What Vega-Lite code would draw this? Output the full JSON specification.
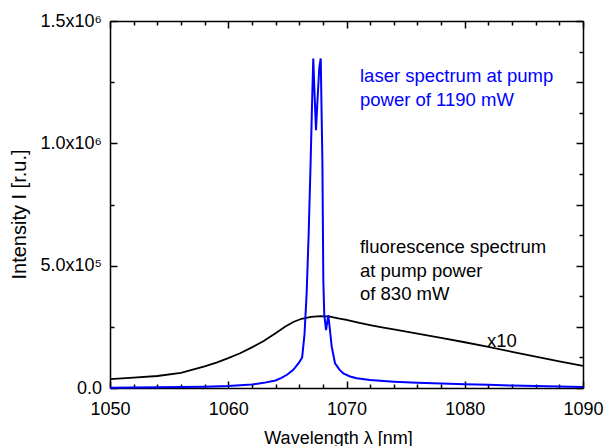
{
  "$schema": "https://vega.github.io/schema/vega-lite/v6.json",
  "width": 473,
  "height": 367,
  "autosize": "none",
  "padding": {"left": 110, "top": 21, "right": 23, "bottom": 58},
  "background": "white",
  "config": {
    "font": "Liberation Sans",
    "view": {"stroke": null},
    "axis": {"grid": false, "ticks": true, "domainColor": "black", "domainWidth": 1.5, "tickWidth": 1.5, "labelColor": "black", "titleColor": "black", "labelFont": "Liberation Sans", "titleFont": "Liberation Sans", "titleFontWeight": "normal", "labelOverlap": false, "labelFlush": false}
  },
  "datasets": {
    "fluor": [
      {"wl": 1050, "I": 36000}, {"wl": 1052, "I": 42000}, {"wl": 1054, "I": 49000}, {"wl": 1056, "I": 62000},
      {"wl": 1058, "I": 88000}, {"wl": 1059, "I": 104000}, {"wl": 1060, "I": 122000}, {"wl": 1061, "I": 142000},
      {"wl": 1062, "I": 166000}, {"wl": 1063, "I": 192000}, {"wl": 1064, "I": 224000}, {"wl": 1064.8, "I": 250000},
      {"wl": 1065.5, "I": 270000}, {"wl": 1066.2, "I": 283000}, {"wl": 1067, "I": 291000}, {"wl": 1067.8, "I": 294000},
      {"wl": 1068.6, "I": 292000}, {"wl": 1069.3, "I": 285000}, {"wl": 1070, "I": 278000}, {"wl": 1071, "I": 267000},
      {"wl": 1072, "I": 257000}, {"wl": 1073, "I": 248000}, {"wl": 1074, "I": 240000}, {"wl": 1076, "I": 222000},
      {"wl": 1078, "I": 205000}, {"wl": 1080, "I": 187000}, {"wl": 1082, "I": 168000}, {"wl": 1084, "I": 148000},
      {"wl": 1086, "I": 128000}, {"wl": 1088, "I": 109000}, {"wl": 1090, "I": 90000}
    ],
    "laser": [
      {"wl": 1050, "I": 1500}, {"wl": 1052, "I": 2000}, {"wl": 1054, "I": 3000}, {"wl": 1056, "I": 4000},
      {"wl": 1058, "I": 5000}, {"wl": 1060, "I": 8000}, {"wl": 1061, "I": 11000}, {"wl": 1062, "I": 14000},
      {"wl": 1063, "I": 21000}, {"wl": 1064, "I": 31000}, {"wl": 1064.5, "I": 41000}, {"wl": 1065, "I": 55000},
      {"wl": 1065.5, "I": 74000}, {"wl": 1066, "I": 105000}, {"wl": 1066.25, "I": 125000}, {"wl": 1066.45, "I": 220000},
      {"wl": 1066.63, "I": 387000}, {"wl": 1066.8, "I": 630000}, {"wl": 1066.97, "I": 930000}, {"wl": 1067.08, "I": 1150000},
      {"wl": 1067.19, "I": 1347000}, {"wl": 1067.3, "I": 1200000}, {"wl": 1067.42, "I": 1054000}, {"wl": 1067.55, "I": 1180000},
      {"wl": 1067.7, "I": 1310000}, {"wl": 1067.82, "I": 1347000}, {"wl": 1067.96, "I": 930000}, {"wl": 1068.04, "I": 440000},
      {"wl": 1068.12, "I": 300000}, {"wl": 1068.27, "I": 237000}, {"wl": 1068.46, "I": 298000}, {"wl": 1068.6, "I": 237000},
      {"wl": 1068.75, "I": 169000}, {"wl": 1069.03, "I": 101000}, {"wl": 1069.4, "I": 75000}, {"wl": 1069.73, "I": 60000},
      {"wl": 1070.3, "I": 47000}, {"wl": 1070.86, "I": 40000}, {"wl": 1072, "I": 33000}, {"wl": 1074, "I": 26000},
      {"wl": 1076, "I": 21000}, {"wl": 1078, "I": 18000}, {"wl": 1080, "I": 15000}, {"wl": 1082, "I": 13000},
      {"wl": 1084, "I": 10000}, {"wl": 1086, "I": 8000}, {"wl": 1088, "I": 6000}, {"wl": 1090, "I": 4000}
    ],
    "notes": [
      {"wl": 1071.14, "I": 1252000, "text": "laser spectrum at pump", "series": "laser"},
      {"wl": 1071.14, "I": 1152000, "text": "power of 1190 mW", "series": "laser"},
      {"wl": 1071.14, "I": 550000, "text": "fluorescence spectrum", "series": "fluor"},
      {"wl": 1071.14, "I": 455000, "text": "at pump power", "series": "fluor"},
      {"wl": 1071.14, "I": 360000, "text": "of 830 mW", "series": "fluor"},
      {"wl": 1081.88, "I": 168000, "text": "x10", "series": "fluor"}
    ]
  },
  "layer": [
    {
      "data": {"name": "fluor"},
      "mark": {"type": "line", "color": "black", "strokeWidth": 1.8},
      "encoding": {
        "x": {"field": "wl", "type": "quantitative", "scale": {"domain": [1050, 1090], "nice": false, "zero": false},
          "axis": {"orient": "bottom", "values": [1050,1052,1054,1056,1058,1060,1062,1064,1066,1068,1070,1072,1074,1076,1078,1080,1082,1084,1086,1088,1090],
            "ticks": true, "tickColor": "#000000",
            "tickSize": {"condition": {"test": "datum.value % 10 === 0", "value": -7}, "value": -4},
            "labelExpr": "datum.value % 10 === 0 ? datum.label : ''", "format": "d",
            "labelFontSize": 18, "labelPadding": 19, "labelBaseline": "top",
            "title": "Wavelength λ [nm]", "titleFontSize": 18, "titleX": 228, "titleY": 55, "titleBaseline": "alphabetic", "titleAnchor": null, "titleAlign": "center"}},
        "y": {"field": "I", "type": "quantitative", "scale": {"domain": [0, 1500000], "nice": false},
          "axis": {"orient": "left", "values": [0, 250000, 500000, 750000, 1000000, 1250000, 1500000],
            "ticks": true, "tickColor": "#000000",
            "tickSize": {"condition": {"test": "datum.value % 500000 === 0", "value": -7}, "value": -4},
            "labelExpr": "datum.value === 0 ? '0.0' : datum.value === 500000 ? '5.0x10⁵' : datum.value === 1000000 ? '1.0x10⁶' : datum.value === 1500000 ? '1.5x10⁶' : ''",
            "labelFontSize": 18, "labelPadding": 15.5, "labelBaseline": "middle",
            "title": "Intensity I [r.u.]", "titleFontSize": 20, "titleX": -91, "titleY": 193, "titleBaseline": "middle", "titleAngle": -90, "titleAlign": "center"}}
      }
    },
    {
      "data": {"name": "laser"},
      "mark": {"type": "line", "color": "#0000ff", "strokeWidth": 2},
      "encoding": {
        "x": {"field": "wl", "type": "quantitative",
          "axis": {"orient": "top", "values": [1050,1052,1054,1056,1058,1060,1062,1064,1066,1068,1070,1072,1074,1076,1078,1080,1082,1084,1086,1088,1090],
            "ticks": true, "tickColor": "#000000",
            "tickSize": {"condition": {"test": "datum.value % 10 === 0", "value": -7}, "value": -4},
            "labels": false, "title": null}},
        "y": {"field": "I", "type": "quantitative",
          "axis": {"orient": "right", "values": [0, 125000, 250000, 375000, 500000, 625000, 750000, 875000, 1000000, 1125000, 1250000, 1375000, 1500000],
            "ticks": true, "tickColor": "#000000",
            "tickSize": {"condition": {"test": "datum.value % 250000 === 0", "value": -7}, "value": -4},
            "labels": false, "title": null}}
      }
    },
    {
      "data": {"name": "notes"},
      "mark": {"type": "text", "align": "left", "baseline": "alphabetic", "fontSize": 18.5, "font": "Liberation Sans"},
      "encoding": {
        "x": {"field": "wl", "type": "quantitative", "axis": null},
        "y": {"field": "I", "type": "quantitative", "axis": null},
        "text": {"field": "text"},
        "color": {"field": "series", "type": "nominal", "scale": {"domain": ["laser", "fluor"], "range": ["#0000ff", "black"]}, "legend": null}
      }
    }
  ],
  "resolve": {"axis": {"x": "independent", "y": "independent"}}
}
